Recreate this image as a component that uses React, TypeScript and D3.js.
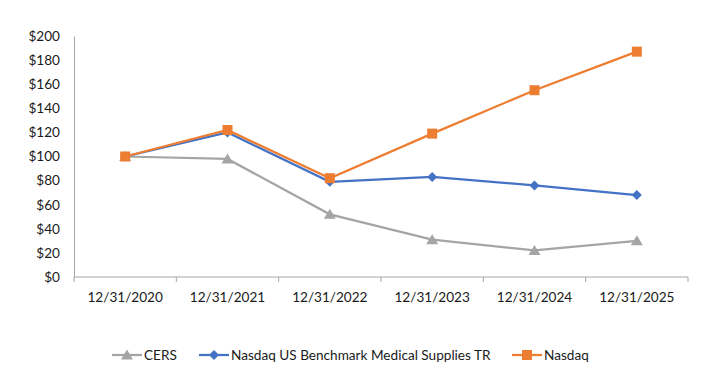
import React, { useRef, useEffect } from "react";
import * as d3 from "d3";

const categories = ["12/31/2020", "12/31/2021", "12/31/2022", "12/31/2023", "12/31/2024", "12/31/2025"];
const cersValues = [100, 98, 52, 31, 22, 30];
const medicalValues = [100, 120, 79, 83, 76, 68];
const nasdaqValues = [100, 122, 82, 119, 155, 187];
const yTicks = [0, 20, 40, 60, 80, 100, 120, 140, 160, 180, 200];

const seriesNames = ["CERS", "Nasdaq US Benchmark Medical Supplies TR", "Nasdaq"];
const seriesColors = ["#A5A5A5", "#4472C4", "#ED7D31"];
const seriesMarkers = ["triangle", "diamond", "square"];

type Row = { name: string; values: number[]; color: string; marker: string };

export default function App() {
  const svgRef = useRef<SVGSVGElement>(null);

  useEffect(() => {
    const svg = d3.select(svgRef.current);
    svg.selectAll("*").remove();

    const width = 721;
    const height = 372;
    const margin = { top: 36, right: 33, bottom: 95, left: 74 };
    const innerW = width - margin.left - margin.right;
    const innerH = height - margin.top - margin.bottom;
    const font = "Lato, 'Open Sans', sans-serif";
    const fontSize = 13.6;

    const series: Row[] = [cersValues, medicalValues, nasdaqValues].map((values, i) => ({
      name: seriesNames[i],
      values,
      color: seriesColors[i],
      marker: seriesMarkers[i],
    }));

    const g = svg.append("g").attr("transform", `translate(${margin.left},${margin.top})`);

    const x = d3.scaleBand<string>().domain(categories).range([0, innerW]);
    const y = d3.scaleLinear().domain([0, 200]).range([innerH, 0]);

    // Y axis (line only, labels left)
    const yAxis = g.append("g").call(
      d3.axisLeft(y).tickValues(yTicks).tickSize(0).tickFormat((d) => `$${d}`)
    );
    yAxis.select(".domain").attr("stroke", "#A6A6A6");
    yAxis.selectAll("text")
      .attr("x", -14)
      .attr("font-family", font)
      .attr("font-size", fontSize)
      .attr("fill", "#1a1a1a");

    // X axis with ticks between categories
    const xAxis = g.append("g").attr("transform", `translate(0,${innerH})`);
    xAxis.append("line")
      .attr("x1", 0).attr("x2", innerW)
      .attr("stroke", "#A6A6A6");
    xAxis.selectAll("line.tk")
      .data(d3.range(categories.length + 1))
      .join("line")
      .attr("class", "tk")
      .attr("x1", (i) => i * x.bandwidth())
      .attr("x2", (i) => i * x.bandwidth())
      .attr("y1", 0).attr("y2", 5)
      .attr("stroke", "#A6A6A6");
    xAxis.selectAll("text")
      .data(categories)
      .join("text")
      .attr("x", (d) => (x(d) ?? 0) + x.bandwidth() / 2)
      .attr("y", 25)
      .attr("text-anchor", "middle")
      .attr("font-family", font)
      .attr("font-size", fontSize)
      .attr("fill", "#1a1a1a")
      .text((d) => d);

    const cx = (i: number) => (x(categories[i]) ?? 0) + x.bandwidth() / 2;

    // marker paths, Excel-like shapes
    const markerPath = (m: string) =>
      m === "triangle"
        ? "M0,-5.5L6,4.5L-6,4.5Z"
        : m === "diamond"
        ? "M0,-5L5,0L0,5L-5,0Z"
        : "M-5,-5H5V5H-5Z";

    const line = d3.line<number>().x((_, i) => cx(i)).y((d) => y(d));

    series.forEach((s) => {
      g.append("path")
        .datum(s.values)
        .attr("fill", "none")
        .attr("stroke", s.color)
        .attr("stroke-width", 2.25)
        .attr("d", line);
      g.selectAll(null)
        .data(s.values)
        .join("path")
        .attr("transform", (d, i) => `translate(${cx(i)},${y(d)})`)
        .attr("d", markerPath(s.marker))
        .attr("fill", s.color);
    });

    // Legend
    const legendX = [112, 199, 512];
    const ly = 355;
    series.forEach((s, i) => {
      const lg = svg.append("g").attr("transform", `translate(${legendX[i]},${ly})`);
      lg.append("line").attr("x1", 0).attr("x2", 30).attr("stroke", s.color).attr("stroke-width", 2.25);
      lg.append("path").attr("transform", "translate(15,0)").attr("d", markerPath(s.marker)).attr("fill", s.color);
      lg.append("text")
        .attr("x", 32)
        .attr("dy", "0.35em")
        .attr("font-family", font)
        .attr("font-size", fontSize)
        .attr("fill", "#1a1a1a")
        .text(s.name);
    });
  }, []);

  return (
    <div style={{ position: "absolute", left: 0, top: 0, width: 721, height: 372, background: "#fff" }}>
      <svg ref={svgRef} width={721} height={372} style={{ display: "block" }} />
    </div>
  );
}
